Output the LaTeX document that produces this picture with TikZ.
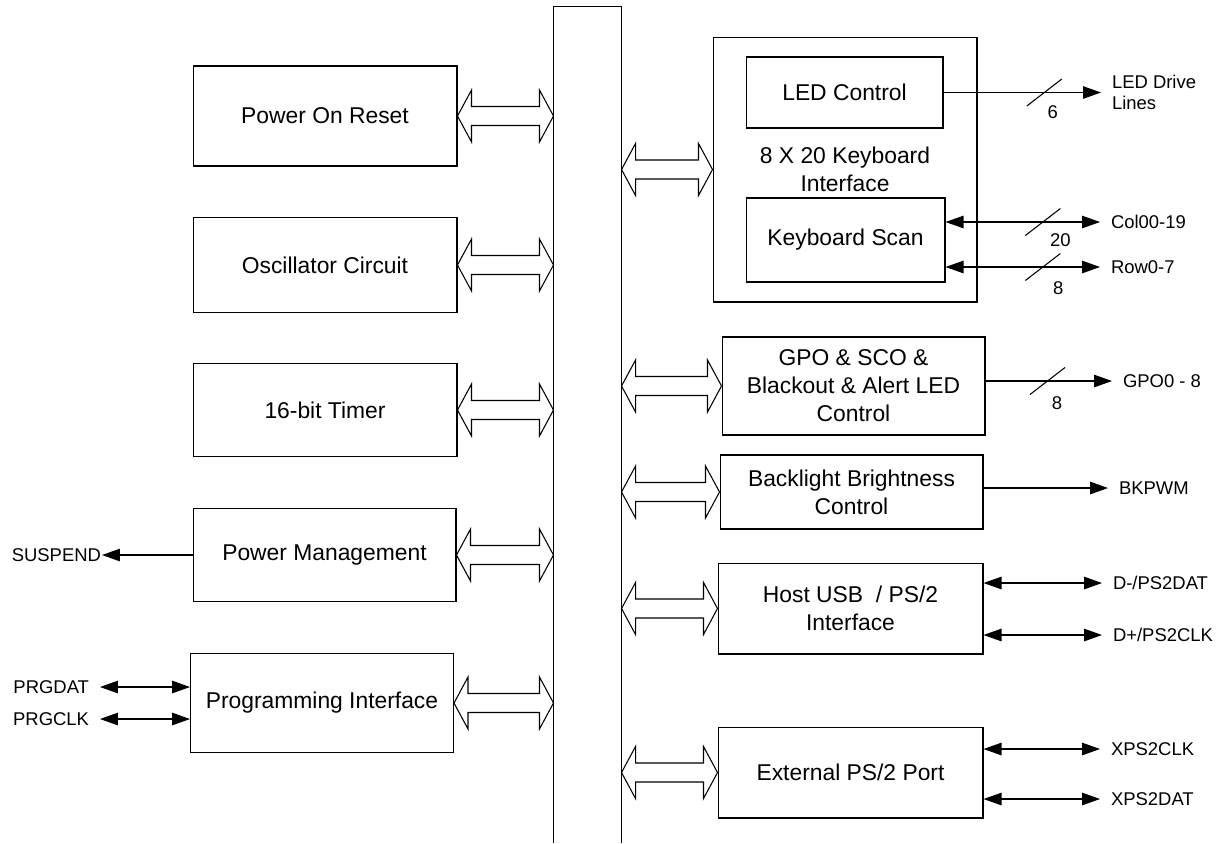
\documentclass[tikz,border=0pt]{standalone}
\usepackage{fontspec}
\setmainfont{Liberation Sans}
\usetikzlibrary{arrows.meta,calc}

\tikzset{
  blk/.style={draw, line width=0.6pt, inner sep=2pt, align=center, font=\fontsize{13}{16}\selectfont},
  sig/.style={line width=0.6pt},
  sigout/.style={sig, -{Triangle[length=0.36cm,width=0.25cm]}},
  sigboth/.style={sig, {Triangle[length=0.36cm,width=0.25cm]}-{Triangle[length=0.36cm,width=0.25cm]}},
  pinlbl/.style={inner sep=0pt, outer sep=0.22cm, align=left, font=\fontsize{10.5}{12}\selectfont},
  numlbl/.style={inner sep=0pt, font=\fontsize{10.5}{12}\selectfont}
}

\newcommand{\busarrow}[2]{%
  \draw [sig] let \p1=#1, \p2=#2 in
    (\p1) -- (\x1+0.28cm,\y1+0.52cm) -- (\x1+0.28cm,\y1+0.19cm)
    -- (\x2-0.28cm,\y1+0.19cm) -- (\x2-0.28cm,\y1+0.52cm) -- (\x2,\y1)
    -- (\x2-0.28cm,\y1-0.52cm) -- (\x2-0.28cm,\y1-0.19cm)
    -- (\x1+0.28cm,\y1-0.19cm) -- (\x1+0.28cm,\y1-0.52cm) -- cycle;}

\newcommand{\busslash}[1]{%
  \draw [sig] ([shift={(-17.5,13.5)}]#1) -- ([shift={(17.5,-13.5)}]#1);}

\begin{document}
\begin{tikzpicture}[x=0.02cm, y=-0.02cm]
      \useasboundingbox (0,0) rectangle (1222,843);

      \node [blk, draw=none, minimum width=1.34cm, minimum height=16.72cm] (bus) at (587.5,425) {};
      \draw [sig] (bus.south west) -- (bus.north west) -- (bus.north east) -- (bus.south east);

      \node [blk, minimum width=5.28cm, minimum height=2cm] (por) at (325,116) {Power On Reset};
      \node [blk, minimum width=5.28cm, minimum height=1.9cm] (osc) at (325,265) {Oscillator Circuit};
      \node [blk, minimum width=5.28cm, minimum height=1.86cm] (tmr) at (325,410) {16-bit Timer};
      \node [blk, minimum width=5.26cm, minimum height=1.86cm] (pwr) at (324.5,555) {Power Management};
      \node [blk, minimum width=5.26cm, minimum height=1.98cm] (prg) at (322,703) {Programming Interface};

      \node [blk, minimum width=5.28cm, minimum height=5.3cm] (kbd) at (845,169.5) {8 X 20 Keyboard\\Interface};
      \node [blk, minimum width=3.94cm, minimum height=1.42cm] (led) at (844.5,92.5) {LED Control};
      \node [blk, minimum width=3.98cm, minimum height=1.68cm] (scan) at (845.5,240) {Keyboard Scan};
      \node [blk, minimum width=5.26cm, minimum height=1.96cm] (gpo) at (853.5,386) {GPO \& SCO \&\\Blackout \& Alert LED\\Control};
      \node [blk, minimum width=5.26cm, minimum height=1.48cm] (bkl) at (851.5,492) {Backlight Brightness\\Control};
      \node [blk, minimum width=5.3cm, minimum height=1.82cm] (usb) at (850.5,608.5) {Host USB \ / PS/2\\Interface};
      \node [blk, minimum width=5.3cm, minimum height=1.82cm] (xps) at (850.5,772.5) {External PS/2 Port};

      \busarrow{(por.east)}{(bus.west |- por.east)}
      \busarrow{(osc.east)}{(bus.west |- osc.east)}
      \busarrow{(tmr.east)}{(bus.west |- tmr.east)}
      \busarrow{(pwr.east)}{(bus.west |- pwr.east)}
      \busarrow{(prg.east)}{(bus.west |- prg.east)}

      \busarrow{(bus.east |- kbd.west)}{(kbd.west)}
      \busarrow{(bus.east |- gpo.west)}{(gpo.west)}
      \busarrow{(bus.east |- bkl.west)}{(bkl.west)}
      \busarrow{(bus.east |- usb.west)}{(usb.west)}
      \busarrow{(bus.east |- xps.west)}{(xps.west)}

      \node [pinlbl, anchor=east, outer sep=0.02cm] (susppin) at (102,555) {SUSPEND};
      \node [pinlbl, anchor=east] (prgdpin) at (100,687) {PRGDAT};
      \node [pinlbl, anchor=east] (prgcpin) at (100,719) {PRGCLK};
      \draw [sigout] (pwr.west) -- (susppin.east);
      \draw [sigboth] (prgdpin.east) -- (prg.west |- prgdpin.east);
      \draw [sigboth] (prgcpin.east) -- (prg.west |- prgcpin.east);

      \node [pinlbl, anchor=west] (ledpin) at (1101,92.5) {LED Drive\\Lines};
      \node [pinlbl, anchor=west] (colpin) at (1100,222) {Col00-19};
      \node [pinlbl, anchor=west] (rowpin) at (1100,267) {Row0-7};
      \node [pinlbl, anchor=west] (gpopin) at (1112,381) {GPO0 - 8};
      \node [pinlbl, anchor=west] (bkpin) at (1108,488) {BKPWM};
      \node [pinlbl, anchor=west] (dmpin) at (1102,583) {D-/PS2DAT};
      \node [pinlbl, anchor=west] (dppin) at (1102,635) {D+/PS2CLK};
      \node [pinlbl, anchor=west] (xcpin) at (1100,749) {XPS2CLK};
      \node [pinlbl, anchor=west] (xdpin) at (1100,799) {XPS2DAT};

      \draw [sigout] (led.east) -- coordinate [pos=0.64] (ledcut) (ledpin.west);
      \draw [sigboth] (scan.east |- colpin.west) -- coordinate [pos=0.63] (colcut) (colpin.west);
      \draw [sigboth] (scan.east |- rowpin.west) -- coordinate [pos=0.63] (rowcut) (rowpin.west);
      \draw [sigout] (gpo.east |- gpopin.west) -- coordinate [pos=0.49] (gpocut) (gpopin.west);
      \draw [sigout] (bkl.east |- bkpin.west) -- (bkpin.west);
      \draw [sigboth] (usb.east |- dmpin.west) -- (dmpin.west);
      \draw [sigboth] (usb.east |- dppin.west) -- (dppin.west);
      \draw [sigboth] (xps.east |- xcpin.west) -- (xcpin.west);
      \draw [sigboth] (xps.east |- xdpin.west) -- (xdpin.west);

      \busslash{ledcut}
      \busslash{colcut}
      \busslash{rowcut}
      \busslash{gpocut}
      \node [numlbl, anchor=west] (ledn) at ([shift={(3,20)}]ledcut) {6};
      \node [numlbl, anchor=west] (coln) at ([shift={(7,18)}]colcut) {20};
      \node [numlbl, anchor=west] (rown) at ([shift={(10,21)}]rowcut) {8};
      \node [numlbl, anchor=west] (gpon) at ([shift={(4,22)}]gpocut) {8};

\end{tikzpicture}
\end{document}
